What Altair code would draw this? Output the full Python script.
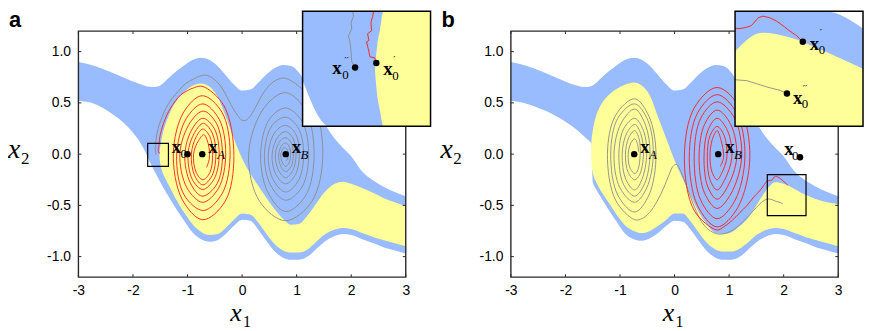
import altair as alt
import pandas as pd

W, H = 330, 248
BLUE = "#99bbff"
YELLOW = "#ffff99"
RED = "#ff1a1a"
GRAY = "#8a8a8a"
FRAME = "#2a2a2a"

# ---------------- axis ticks ----------------
x_ticks = [-3, -2, -1, 0, 1, 2, 3]
x_tick_labels = ["-3", "-2", "-1", "0", "1", "2", "3"]
y_ticks = [-1.0, -0.5, 0.0, 0.5, 1.0]
y_tick_labels = ["-1.0", "-0.5", "0.0", "0.5", "1.0"]
x_domain = [-3.0, 3.0]
y_domain = [-1.2, 1.2]

# ---------------- panel a : outer (blue) band ----------------
band_a_x = [-3.0, -2.7, -2.4, -2.1, -1.8, -1.73, -1.65, -1.55, -1.45, -1.35, -1.2, -1.05, -0.9, -0.75,
            -0.6, -0.45, -0.3, -0.15, 0.0, 0.15, 0.3, 0.45, 0.6, 0.75, 0.9, 1.05, 1.2, 1.35, 1.5,
            1.7, 1.85, 2.0, 2.2, 2.41, 2.6, 2.8, 3.0]
band_a_upper = [0.90, 0.86, 0.80, 0.73, 0.67, 0.66, 0.655, 0.66, 0.69, 0.74, 0.81, 0.87, 0.92, 0.94,
                0.92, 0.86, 0.77, 0.68, 0.62, 0.63, 0.70, 0.78, 0.84, 0.87, 0.86, 0.79, 0.66, 0.49, 0.31,
                0.15, 0.06, -0.02, -0.17, -0.26, -0.32, -0.37, -0.41]
band_a_lower = [0.52, 0.49, 0.40, 0.27, 0.05, -0.03, -0.12, -0.22, -0.32, -0.41, -0.54, -0.66, -0.77, -0.83,
                -0.855, -0.84, -0.78, -0.70, -0.64, -0.65, -0.74, -0.85, -0.95, -1.01, -1.03, -1.03, -1.0, -0.93, -0.86,
                -0.80, -0.78, -0.79, -0.83, -0.87, -0.91, -0.94, -0.97]

# ---------------- panel a : yellow region ----------------
yel_a_x = [-1.515, -1.51, -1.50, -1.49, -1.47, -1.45, -1.40, -1.35, -1.3, -1.2, -1.05, -0.9, -0.75, -0.6,
           -0.45, -0.3, -0.15, 0.0, 0.15, 0.3, 0.45, 0.6, 0.75, 0.9, 1.05, 1.2, 1.35, 1.5, 1.7, 1.85,
           2.0, 2.2, 2.41, 2.6, 2.8, 3.0]
yel_a_upper = [-0.01, 0.03, 0.07, 0.105, 0.16, 0.21, 0.30, 0.37, 0.43, 0.52, 0.61, 0.67, 0.69, 0.66,
               0.56, 0.37, 0.15, -0.04, -0.19, -0.31, -0.43, -0.54, -0.63, -0.69, -0.68, -0.60, -0.49, -0.38, -0.29, -0.27,
               -0.29, -0.33, -0.38, -0.43, -0.47, -0.51]
yel_a_lower = [-0.01, -0.05, -0.09, -0.12, -0.16, -0.19, -0.245, -0.30, -0.35, -0.45, -0.58, -0.69, -0.76, -0.79,
               -0.78, -0.72, -0.64, -0.58, -0.59, -0.67, -0.78, -0.88, -0.94, -0.96, -0.96, -0.93, -0.86, -0.79, -0.735, -0.72,
               -0.73, -0.77, -0.81, -0.84, -0.87, -0.90]

# ---------------- panel b : outer (blue) band ----------------
band_b_x = [-3.0, -2.7, -2.4, -2.1, -1.8, -1.65, -1.55, -1.52, -1.50, -1.45, -1.35, -1.2, -1.05, -0.9, -0.75,
            -0.6, -0.45, -0.3, -0.15, 0.0, 0.15, 0.3, 0.45, 0.6, 0.75, 0.9, 1.05, 1.2, 1.35, 1.5,
            1.7, 1.85, 2.0, 2.2, 2.41, 2.6, 2.8, 3.0]
band_b_upper = [0.90, 0.86, 0.80, 0.73, 0.67, 0.655, 0.66, 0.665, 0.67, 0.69, 0.74, 0.81, 0.87, 0.92, 0.94,
                0.92, 0.86, 0.77, 0.68, 0.62, 0.63, 0.70, 0.78, 0.84, 0.87, 0.86, 0.79, 0.66, 0.49, 0.31,
                0.15, 0.06, -0.02, -0.17, -0.26, -0.32, -0.37, -0.41]
band_b_lower = [0.52, 0.49, 0.43, 0.35, 0.24, 0.17, 0.12, 0.10, -0.27, -0.33, -0.42, -0.55, -0.67, -0.78, -0.83,
                -0.845, -0.82, -0.77, -0.70, -0.65, -0.66, -0.74, -0.85, -0.95, -1.01, -1.03, -1.03, -1.0, -0.93, -0.86,
                -0.80, -0.78, -0.79, -0.83, -0.87, -0.91, -0.94, -0.97]

# ---------------- panel b : yellow region ----------------
yel_b_x = [-1.525, -1.52, -1.51, -1.49, -1.44, -1.38, -1.3, -1.2, -1.05, -0.9, -0.75, -0.6, -0.45, -0.3,
           -0.15, 0.0, 0.15, 0.3, 0.45, 0.6, 0.75, 0.9, 1.05, 1.2, 1.35, 1.5, 1.7, 1.85, 2.0, 2.2,
           2.41, 2.6, 2.8, 3.0]
yel_b_upper = [0.10, 0.15, 0.19, 0.26, 0.37, 0.45, 0.52, 0.58, 0.64, 0.68, 0.70, 0.67, 0.57, 0.36,
               0.15, -0.06, -0.24, -0.41, -0.57, -0.69, -0.77, -0.78, -0.76, -0.70, -0.62, -0.50, -0.34, -0.275, -0.29, -0.34,
               -0.40, -0.44, -0.47, -0.49]
yel_b_lower = [-0.06, -0.11, -0.15, -0.20, -0.27, -0.33, -0.40, -0.48, -0.60, -0.70, -0.75, -0.77, -0.75, -0.70,
               -0.64, -0.58, -0.58, -0.66, -0.77, -0.87, -0.93, -0.95, -0.95, -0.92, -0.86, -0.79, -0.735, -0.72, -0.73, -0.77,
               -0.81, -0.84, -0.87, -0.90]

# ---------------- trajectories ----------------
red_a = [(-1.511, 0.004), (-1.516, 0.014), (-1.530, 0.016), (-1.535, 0.032), (-1.540, 0.045), (-1.533, 0.048),
         (-1.537, 0.061), (-1.525, 0.067), (-1.527, 0.083), (-1.522, 0.095), (-1.519, 0.105),
         (-1.51, 0.16), (-1.48, 0.23), (-1.44, 0.30), (-1.38, 0.38), (-1.31, 0.45), (-1.22, 0.52), (-1.12, 0.58),
         (-1.0, 0.62), (-0.87, 0.65),
         (-0.72, 0.66), (-0.33, 0.47), (-0.15, -0.02), (-0.31, -0.46), (-0.72, -0.64), (-1.10, -0.44), (-1.26, 0.01), (-1.07, 0.41),
         (-0.73, 0.57), (-0.37, 0.41), (-0.22, 0.02), (-0.36, -0.38), (-0.71, -0.55), (-1.06, -0.40), (-1.20, -0.01), (-1.02, 0.35),
         (-0.72, 0.49), (-0.42, 0.34), (-0.30, 0.0), (-0.43, -0.33), (-0.72, -0.47), (-1.01, -0.33), (-1.14, 0.01), (-0.95, 0.31),
         (-0.71, 0.42), (-0.47, 0.30), (-0.36, -0.01), (-0.46, -0.29), (-0.73, -0.41), (-0.95, -0.28), (-1.05, 0.0), (-0.91, 0.25),
         (-0.72, 0.35), (-0.51, 0.25), (-0.42, 0.0), (-0.51, -0.24), (-0.72, -0.345), (-0.91, -0.25), (-0.99, 0.01), (-0.87, 0.21),
         (-0.71, 0.30), (-0.55, 0.21), (-0.48, 0.0), (-0.55, -0.21), (-0.72, -0.30), (-0.87, -0.21), (-0.93, 0.0), (-0.84, 0.17),
         (-0.72, 0.245), (-0.59, 0.17), (-0.54, 0.0), (-0.59, -0.18), (-0.72, -0.25), (-0.84, -0.18), (-0.89, 0.0), (-0.80, 0.13),
         (-0.70, 0.19), (-0.62, 0.10), (-0.60, -0.04), (-0.65, -0.13)]

gray_a = [(-1.574, -0.005), (-1.584, 0.007), (-1.586, 0.026), (-1.589, 0.045), (-1.594, 0.057), (-1.584, 0.070),
          (-1.586, 0.083), (-1.579, 0.095), (-1.581, 0.105),
          (-1.57, 0.17), (-1.54, 0.25), (-1.49, 0.33), (-1.43, 0.41), (-1.36, 0.48), (-1.27, 0.55), (-1.16, 0.62),
          (-1.03, 0.69), (-0.90, 0.73), (-0.78, 0.76), (-0.66, 0.77), (-0.55, 0.745), (-0.45, 0.70), (-0.35, 0.63),
          (-0.25, 0.53), (-0.16, 0.44), (-0.07, 0.37), (0.0, 0.33), (0.07, 0.33), (0.15, 0.37), (0.25, 0.46),
          (0.36, 0.57), (0.48, 0.66), (0.62, 0.72),
          (0.80, 0.74), (1.28, 0.52), (1.48, 0.0), (1.28, -0.46), (0.80, -0.65), (0.32, -0.46), (0.12, 0.0), (0.40, 0.45),
          (0.80, 0.60), (1.17, 0.42), (1.32, 0.0), (1.17, -0.40), (0.80, -0.56), (0.47, -0.37), (0.34, 0.0), (0.50, 0.34),
          (0.80, 0.45), (1.10, 0.32), (1.22, 0.0), (1.10, -0.32), (0.80, -0.45), (0.52, -0.30), (0.41, 0.0), (0.55, 0.28),
          (0.80, 0.36), (1.03, 0.255), (1.13, 0.0), (1.03, -0.26), (0.80, -0.37), (0.57, -0.25), (0.48, 0.0), (0.61, 0.22),
          (0.80, 0.28), (0.98, 0.20), (1.05, 0.0), (0.98, -0.20), (0.80, -0.29), (0.62, -0.20), (0.55, 0.0), (0.66, 0.17),
          (0.80, 0.22), (0.93, 0.156), (0.99, 0.0), (0.93, -0.16), (0.80, -0.23), (0.67, -0.16), (0.61, 0.0), (0.70, 0.13),
          (0.80, 0.16), (0.90, 0.113), (0.94, 0.0), (0.90, -0.12), (0.80, -0.17), (0.71, -0.12), (0.67, 0.0), (0.735, 0.09),
          (0.80, 0.11), (0.86, 0.078), (0.89, 0.0), (0.86, -0.085), (0.80, -0.12), (0.74, -0.085), (0.71, 0.0), (0.76, 0.06),
          (0.80, 0.06), (0.835, 0.04), (0.85, 0.0), (0.83, -0.05), (0.80, -0.07)]

gray_b = [(1.988, -0.486), (1.95, -0.475), (1.876, -0.463), (1.82, -0.452), (1.764, -0.441), (1.70, -0.438),
          (1.62, -0.46), (1.50, -0.52), (1.38, -0.59), (1.25, -0.66), (1.10, -0.73), (0.95, -0.77), (0.80, -0.78),
          (0.66, -0.75), (0.52, -0.68), (0.40, -0.56), (0.28, -0.40), (0.17, -0.24), (0.08, -0.13), (0.03, -0.10),
          (-0.03, -0.12), (-0.10, -0.20), (-0.20, -0.33), (-0.32, -0.46), (-0.46, -0.57), (-0.60, -0.63),
          (-0.73, -0.64), (-1.08, -0.45), (-1.23, 0.0), (-1.08, 0.38), (-0.73, 0.54), (-0.47, 0.37), (-0.34, 0.0), (-0.47, -0.40),
          (-0.73, -0.565), (-1.04, -0.40), (-1.17, 0.0), (-1.04, 0.35), (-0.73, 0.49), (-0.49, 0.33), (-0.39, 0.0), (-0.51, -0.33),
          (-0.73, -0.47), (-1.00, -0.33), (-1.11, 0.0), (-0.98, 0.30), (-0.73, 0.44), (-0.53, 0.28), (-0.45, 0.0), (-0.55, -0.29),
          (-0.73, -0.41), (-0.94, -0.29), (-1.02, 0.0), (-0.93, 0.25), (-0.73, 0.35), (-0.57, 0.23), (-0.51, 0.0), (-0.60, -0.25),
          (-0.73, -0.35), (-0.89, -0.25), (-0.96, 0.0), (-0.88, 0.20), (-0.73, 0.29), (-0.62, 0.20), (-0.57, 0.0), (-0.64, -0.20),
          (-0.73, -0.25), (-0.85, -0.18), (-0.90, 0.0), (-0.84, 0.16), (-0.73, 0.23), (-0.65, 0.15), (-0.63, 0.0), (-0.67, -0.15),
          (-0.73, -0.19), (-0.82, -0.13), (-0.85, 0.0), (-0.80, 0.11), (-0.73, 0.15), (-0.68, 0.10), (-0.66, 0.02)]

red_b = [(2.076, -0.306), (2.04, -0.284), (2.00, -0.267), (1.966, -0.25), (1.93, -0.234), (1.89, -0.222),
         (1.856, -0.217), (1.83, -0.222), (1.79, -0.25), (1.755, -0.257), (1.728, -0.26), (1.70, -0.26),
         (1.63, -0.31), (1.54, -0.37), (1.45, -0.42), (1.33, -0.50), (1.20, -0.57), (1.05, -0.65), (0.90, -0.71),
         (0.78, -0.74), (0.36, -0.55), (0.18, -0.03), (0.36, 0.45), (0.78, 0.65), (1.20, 0.45), (1.38, -0.03), (1.16, -0.52),
         (0.78, -0.71), (0.42, -0.50), (0.27, -0.03), (0.42, 0.40), (0.78, 0.58), (1.14, 0.40), (1.29, -0.03), (1.10, -0.46),
         (0.78, -0.63), (0.48, -0.45), (0.36, -0.03), (0.48, 0.35), (0.78, 0.51), (1.10, 0.35), (1.23, -0.03), (1.03, -0.39),
         (0.78, -0.53), (0.55, -0.38), (0.45, -0.03), (0.55, 0.29), (0.78, 0.43), (1.03, 0.29), (1.14, -0.03), (0.97, -0.32),
         (0.78, -0.44), (0.61, -0.32), (0.54, -0.03), (0.61, 0.23), (0.78, 0.35), (0.97, 0.23), (1.05, -0.03), (0.91, -0.26),
         (0.78, -0.35), (0.65, -0.25), (0.60, -0.03), (0.65, 0.18), (0.78, 0.27), (0.91, 0.18), (0.96, -0.03), (0.86, -0.19),
         (0.78, -0.25), (0.69, -0.18), (0.65, -0.03), (0.69, 0.14), (0.78, 0.23), (0.85, 0.14), (0.90, -0.03), (0.84, -0.12)]

# ---------------- special points ----------------
pts_a = {"x0": (-1.0, 0.0), "xA": (-0.73, 0.0), "xB": (0.80, 0.0)}
pts_b = {"x0": (2.30, -0.03), "xA": (-0.74, 0.0), "xB": (0.80, 0.0)}
inset_pts_a = {"x0p": (-1.511, 0.004), "x0pp": (-1.574, -0.005)}
inset_pts_b = {"x0p": (2.076, -0.306), "x0pp": (1.988, -0.486)}

# zoom boxes (data coordinates)
box_a = {"x": -1.73, "x2": -1.35, "y": -0.12, "y2": 0.105}
box_b = {"x": 1.70, "x2": 2.41, "y": -0.60, "y2": -0.20}

INSET_XR = [226, 355]
INSET_YR = [96, -20]
TICK_PX = 3.0


def lab_expr(vals, labs):
    expr = "''"
    for v, l in reversed(list(zip(vals, labs))):
        expr = f"abs(datum.value - ({v})) < 1e-6 ? '{l}' : ({expr})"
    return expr


x_axis = alt.Axis(values=x_ticks, labelExpr=lab_expr(x_ticks, x_tick_labels), title=None, grid=False,
                  domain=False, ticks=False, tickSize=0, labelPadding=7, labelFlush=False,
                  labelFont="Liberation Sans", labelFontSize=14, labelColor="black", labelOverlap=False)
y_axis = alt.Axis(values=y_ticks, labelExpr=lab_expr(y_ticks, y_tick_labels), title=None, grid=False,
                  domain=False, ticks=False, tickSize=0, labelPadding=8, labelFlush=False,
                  labelFont="Liberation Sans", labelFontSize=14, labelColor="black", labelOverlap=False)

one = pd.DataFrame({"k": [0]})
SERIF = "Liberation Serif"


def traj_df(pts):
    return pd.DataFrame({"x": [p[0] for p in pts], "y": [p[1] for p in pts], "i": list(range(len(pts)))})


def tick_rects(tag):
    # inward ticks on all four sides as thin filled rectangles (data units)
    ux = (x_domain[1] - x_domain[0]) / W
    uy = (y_domain[1] - y_domain[0]) / H
    x0, x1 = x_domain
    y0, y1 = y_domain
    tx, ty = 0.5 * ux, 0.5 * uy
    rows = []
    for t in x_ticks:
        rows.append({"x": t - tx, "x2": t + tx, "y": y0, "y2": y0 + TICK_PX * uy})
        rows.append({"x": t - tx, "x2": t + tx, "y": y1 - TICK_PX * uy, "y2": y1})
    for t in y_ticks:
        rows.append({"x": x0, "x2": x0 + TICK_PX * ux, "y": t - ty, "y2": t + ty})
        rows.append({"x": x1 - TICK_PX * ux, "x2": x1, "y": t - ty, "y2": t + ty})
    df = pd.DataFrame(rows)
    df["panel"] = tag
    return df


def point_label(xy, pieces, ex, ey):
    df = pd.DataFrame({"x": [xy[0]], "y": [xy[1]]})
    out = []
    for txt, dx, dy, size, style, weight, font in pieces:
        out.append(alt.Chart(df).mark_text(text=txt, dx=dx, dy=dy, fontSize=size, fontStyle=style,
                                           fontWeight=weight, font=font, align="left",
                                           baseline="alphabetic", color="black")
                   .encode(x=ex("x"), y=ey("y")))
    return out


def bold_x(dx, dy):
    return ("x", dx, dy, 19, "normal", "bold", SERIF)


def sub(t, dx, dy, italic=False):
    return (t, dx, dy, 13, "italic" if italic else "normal", "normal", SERIF)


def prime(t, dx, dy):
    return (t, dx, dy, 10, "normal", "normal", "DejaVu Serif")


def panel(letter, bx, bu, bl, yx, yu, yl, trajs, pts, ipts, box, idom, labels_main, labels_inset):
    xs = alt.Scale(domain=x_domain, nice=False, zero=False)
    ys = alt.Scale(domain=y_domain, nice=False, zero=False)
    ex = lambda f: alt.X(f"{f}:Q", scale=xs, axis=x_axis)
    ey = lambda f: alt.Y(f"{f}:Q", scale=ys, axis=y_axis)

    band_df = pd.DataFrame({"x": bx, "y": bu, "y2": bl})
    yel_df = pd.DataFrame({"x": yx, "y": yu, "y2": yl})
    box_df = pd.DataFrame([box])

    layers = []
    layers.append(alt.Chart(band_df).mark_area(color=BLUE, interpolate="monotone")
                  .encode(x=ex("x"), y=ey("y"), y2="y2:Q"))
    layers.append(alt.Chart(yel_df).mark_area(color=YELLOW, interpolate="monotone")
                  .encode(x=ex("x"), y=ey("y"), y2="y2:Q"))
    for pts_list, col in trajs:
        layers.append(alt.Chart(traj_df(pts_list)).mark_line(color=col, strokeWidth=0.9,
                                                              interpolate="catmull-rom")
                      .encode(x=ex("x"), y=ey("y"), order="i:Q"))
    layers.append(alt.Chart(box_df).mark_rect(fillOpacity=0, stroke="black", strokeWidth=1.2)
                  .encode(x=ex("x"), x2="x2:Q", y=ey("y"), y2="y2:Q"))
    pdf = pd.DataFrame({"x": [v[0] for v in pts.values()], "y": [v[1] for v in pts.values()]})
    layers.append(alt.Chart(pdf).mark_circle(size=42, color="black", opacity=1)
                  .encode(x=ex("x"), y=ey("y")))
    for key, pieces in labels_main:
        layers += point_label(pts[key], pieces, ex, ey)

    # panel letter and axis titles
    layers.append(alt.Chart(one).mark_text(text=letter, align="left", baseline="top", font="Liberation Sans",
                                           fontSize=22, fontWeight="bold", color="black")
                  .encode(x=alt.value(-70), y=alt.value(-21)))
    layers.append(alt.Chart(one).mark_text(text="x", align="left", baseline="alphabetic", font=SERIF,
                                           fontSize=28, fontStyle="italic", color="black")
                  .encode(x=alt.value(-71), y=alt.value(H / 2 + 4)))
    layers.append(alt.Chart(one).mark_text(text="2", align="left", baseline="alphabetic", font=SERIF,
                                           fontSize=17, color="black")
                  .encode(x=alt.value(-58), y=alt.value(H / 2 + 10)))
    layers.append(alt.Chart(one).mark_text(text="x", align="left", baseline="alphabetic", font=SERIF,
                                           fontSize=26, fontStyle="italic", color="black")
                  .encode(x=alt.value(W / 2 - 12), y=alt.value(H + 44)))
    layers.append(alt.Chart(one).mark_text(text="1", align="left", baseline="alphabetic", font=SERIF,
                                           fontSize=16, color="black")
                  .encode(x=alt.value(W / 2 + 1), y=alt.value(H + 50)))
    main = alt.layer(*layers)

    # ---------------- plot box: own scales with explicit pixel range (same mechanism as the inset) ----
    fxs = alt.Scale(domain=x_domain, range=[0, W], nice=False, zero=False)
    fys = alt.Scale(domain=y_domain, range=[H, 0], nice=False, zero=False)
    fx = lambda f: alt.X(f"{f}:Q", scale=fxs, axis=None)
    fy = lambda f: alt.Y(f"{f}:Q", scale=fys, axis=None)
    frame_box = pd.DataFrame({"x": [x_domain[0]], "x2": [x_domain[1]], "y": [y_domain[0]], "y2": [y_domain[1]],
                              "panel": [letter]})
    fl = [
        alt.Chart(frame_box).mark_rect(fillOpacity=0, stroke=FRAME, strokeWidth=1.4)
        .encode(x=fx("x"), x2="x2:Q", y=fy("y"), y2="y2:Q"),
        alt.Chart(tick_rects(letter)).mark_rect(color=FRAME, opacity=1)
        .encode(x=fx("x"), x2="x2:Q", y=fy("y"), y2="y2:Q"),
    ]
    frame = alt.layer(*fl)

    # ---------------- inset ----------------
    (xlo, xhi), (ylo, yhi) = idom
    ixs = alt.Scale(domain=[xlo, xhi], range=INSET_XR, nice=False, zero=False, clamp=True)
    iys = alt.Scale(domain=[ylo, yhi], range=INSET_YR, nice=False, zero=False, clamp=True)
    ix = lambda f: alt.X(f"{f}:Q", scale=ixs, axis=None)
    iy = lambda f: alt.Y(f"{f}:Q", scale=iys, axis=None)
    xin = f"datum.x >= {xlo - 1e-9} && datum.x <= {xhi + 1e-9}"
    yin = f"datum.y >= {ylo - 1e-9} && datum.y <= {yhi + 1e-9}"

    il = []
    il.append(alt.Chart(box_df).mark_rect(color="white").encode(x=ix("x"), x2="x2:Q", y=iy("y"), y2="y2:Q"))
    il.append(alt.Chart(band_df).transform_filter(xin).mark_area(color=BLUE, interpolate="monotone")
              .encode(x=ix("x"), y=iy("y"), y2="y2:Q"))
    il.append(alt.Chart(yel_df).transform_filter(xin).mark_area(color=YELLOW, interpolate="monotone")
              .encode(x=ix("x"), y=iy("y"), y2="y2:Q"))
    for pts_list, col in trajs:
        il.append(alt.Chart(traj_df(pts_list)).transform_filter(xin + " && " + yin)
                  .mark_line(color=col, strokeWidth=0.9).encode(x=ix("x"), y=iy("y"), order="i:Q"))
    ipdf = pd.DataFrame({"x": [v[0] for v in ipts.values()], "y": [v[1] for v in ipts.values()]})
    il.append(alt.Chart(ipdf).mark_circle(size=42, color="black", opacity=1).encode(x=ix("x"), y=iy("y")))
    for key, pieces in labels_inset:
        il += point_label(ipts[key], pieces, ix, iy)
    il.append(alt.Chart(box_df).mark_rect(fillOpacity=0, stroke="black", strokeWidth=1.5)
              .encode(x=ix("x"), x2="x2:Q", y=iy("y"), y2="y2:Q"))
    inset = alt.layer(*il)

    return (alt.layer(main, frame, inset)
            .resolve_scale(x="independent", y="independent")
            .properties(width=W, height=H))


labels_main_a = [
    ("x0", [bold_x(-16, -1), sub("0", -7, 4)]),
    ("xA", [bold_x(6, -1), sub("A", 15, 5, True)]),
    ("xB", [bold_x(6, -1), sub("B", 15, 5, True)]),
]
labels_inset_a = [
    ("x0pp", [bold_x(-23, 7), sub("0", -13, 12), prime("′′", -11, -4)]),
    ("x0p", [bold_x(7, 12), sub("0", 16, 17), prime("′", 17, 0)]),
]
labels_main_b = [
    ("x0", [bold_x(-16, -2), sub("0", -8, 3)]),
    ("xA", [bold_x(6, -1), sub("A", 15, 5, True)]),
    ("xB", [bold_x(7, -1), sub("B", 16, 5, True)]),
]
labels_inset_b = [
    ("x0p", [bold_x(7, 8), sub("0", 16, 12), prime("′", 17, -6)]),
    ("x0pp", [bold_x(6, 11), sub("0", 15, 15), prime("′′", 16, -2)]),
]

pa = panel("a", band_a_x, band_a_upper, band_a_lower, yel_a_x, yel_a_upper, yel_a_lower,
           [(red_a, RED), (gray_a, GRAY)], pts_a, inset_pts_a, box_a,
           ((box_a["x"], box_a["x2"]), (box_a["y"], box_a["y2"])), labels_main_a, labels_inset_a)
pb = panel("b", band_b_x, band_b_upper, band_b_lower, yel_b_x, yel_b_upper, yel_b_lower,
           [(gray_b, GRAY), (red_b, RED)], pts_b, inset_pts_b, box_b,
           ((box_b["x"], box_b["x2"]), (box_b["y"], box_b["y2"])), labels_main_b, labels_inset_b)

chart = (alt.hconcat(pa, pb, spacing=106, bounds="flush", padding=0)
         .configure_view(stroke=None))
chart.save("out.html", embed_options={"renderer": "svg", "actions": False})
